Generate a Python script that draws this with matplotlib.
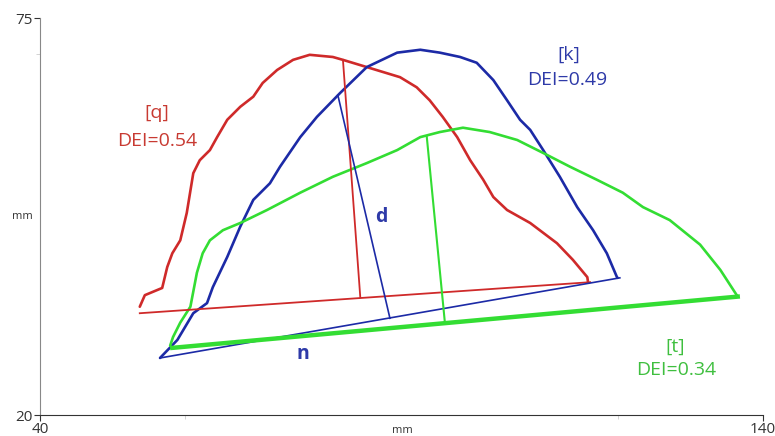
import matplotlib
matplotlib.use("Agg")
import matplotlib.pyplot as plt

plt.rcParams['font.family'] = ['Open Sans', 'DejaVu Sans']

# Tongue contours (mm) for the three consonants
q_x = [53.8, 54.5, 56.9, 57.6, 58.3, 59.4, 60.3, 61.2, 62.1, 63.5, 64.5, 65.9, 67.7, 69.5,
       70.8, 72.8, 75.0, 77.3, 80.5, 81.9, 85.2, 89.8, 92.1, 93.9, 95.7, 97.7, 99.5, 101.3,
       102.7, 104.6, 107.8, 111.5, 113.7, 115.7, 115.8]
q_y = [35.0, 36.6, 37.6, 40.5, 42.4, 44.2, 48.0, 53.5, 55.3, 56.7, 58.5, 60.9, 62.7, 64.1,
       66.0, 67.8, 69.2, 69.9, 69.6, 69.2, 68.2, 66.8, 65.4, 63.6, 61.3, 58.5, 55.3, 52.6,
       50.2, 48.4, 46.6, 43.8, 41.5, 39.1, 38.4]

k_x = [56.6, 59.0, 61.2, 63.1, 63.9, 65.9, 67.7, 69.5, 71.8, 73.2, 76.0, 78.3, 81.5, 85.2,
       89.4, 92.6, 95.3, 98.1, 100.4, 102.7, 104.6, 106.4, 107.8, 109.6, 111.9, 114.3, 116.5,
       118.4, 119.8, 119.9]
k_y = [27.9, 30.4, 34.1, 35.5, 37.7, 41.9, 46.1, 49.8, 52.1, 54.4, 58.5, 61.3, 64.6, 68.2,
       70.2, 70.6, 70.2, 69.6, 68.8, 66.4, 63.6, 60.9, 59.5, 56.7, 53.0, 48.8, 45.6,
       42.4, 39.1, 39.0]

t_x = [58.0, 58.4, 59.4, 60.8, 61.7, 62.5, 63.5, 65.3, 67.7, 71.4, 76.0, 80.5, 85.2, 89.4,
       92.6, 95.3, 98.5, 102.2, 106.0, 109.6, 113.3, 117.0, 120.6, 123.4, 127.1, 131.3,
       134.1, 136.5]
t_y = [29.6, 30.8, 32.8, 35.0, 39.7, 42.4, 44.2, 45.6, 46.6, 48.4, 50.8, 53.0, 54.9, 56.7,
       58.5, 59.2, 59.8, 59.2, 58.1, 56.3, 54.4, 52.6, 50.8, 48.8, 47.0, 43.6,
       40.1, 36.4]

# Baselines (n) and maximal depth lines (d): start / end points
q_base_x, q_base_y = [53.8, 116.1], [34.1, 38.4]
q_d_x, q_d_y = [81.9, 84.3], [69.2, 36.3]
k_base_x, k_base_y = [56.6, 120.2], [27.9, 39.0]
k_d_x, k_d_y = [81.2, 88.4], [64.3, 33.4]
t_base_x, t_base_y = [58.3, 136.5], [29.3, 36.4]
t_d_x, t_d_y = [93.5, 96.0], [58.5, 32.8]

segments = ["[q]", "[k]", "[t]"]
dei = [0.54, 0.49, 0.34]

RED, BLUE, GREEN = "#cf2a2a", "#1c2aa6", "#33dd33"
RED_T, BLUE_T, GREEN_T = "#c83a32", "#2e3aa8", "#3fbf3f"

fig = plt.figure(figsize=(7.75, 4.36), dpi=100)
ax = fig.add_axes([40 / 775, 21 / 436, 723 / 775, 397 / 436])

style = dict(solid_capstyle='round', solid_joinstyle='round')
ax.plot(q_x, q_y, color=RED, lw=1.9, **style)
ax.plot(k_x, k_y, color=BLUE, lw=1.9, **style)
ax.plot(t_x, t_y, color=GREEN, lw=1.9, **style)

ax.plot(q_base_x, q_base_y, color=RED, lw=1.3)
ax.plot(q_d_x, q_d_y, color=RED, lw=1.3)
ax.plot(k_base_x, k_base_y, color=BLUE, lw=1.2)
ax.plot(k_d_x, k_d_y, color=BLUE, lw=1.2)
ax.plot(t_base_x, t_base_y, color=GREEN, lw=3.2)
ax.plot(t_d_x, t_d_y, color=GREEN, lw=1.5)

# segment labels and their DEI values
label_pos = [((56.2, 61.8), (56.2, 58.0)),
             ((113.2, 69.9), (112.9, 66.4)),
             ((127.8, 29.4), (128.0, 26.2))]
for seg, val, col, (p1, p2) in zip(segments, dei, [RED_T, BLUE_T, GREEN_T], label_pos):
    ax.text(*p1, seg, color=col, fontsize=14, ha='center', va='center')
    ax.text(*p2, f"DEI={val:.2f}", color=col, fontsize=14, ha='center', va='center')

ax.text(87.2, 47.4, "d", color=BLUE_T, fontsize=14, fontweight='bold',
        ha='center', va='center')
ax.text(76.4, 28.5, "n", color=BLUE_T, fontsize=14, fontweight='bold',
        ha='center', va='center')

ax.set_xlim(40, 140)
ax.set_ylim(20, 75)
for s in ('top', 'right'):
    ax.spines[s].set_visible(False)
ax.spines['left'].set_color('#888888')
ax.spines['bottom'].set_color('#333333')
ax.set_xticks([40, 140])
ax.set_yticks([20, 75])
ax.set_xticks([60, 120], minor=True)
ax.set_yticks([70], minor=True)
ax.tick_params(axis='both', which='major', labelsize=11, colors='#333333', length=4,
               pad=1)
ax.tick_params(axis='both', which='minor', length=3, color='#cccccc')
ax.text(402 / 775, 1 - 430 / 436, "mm", transform=fig.transFigure, fontsize=8,
        color='#333333', ha='center', va='center')
ax.text(22 / 775, 1 - 216 / 436, "mm", transform=fig.transFigure, fontsize=8,
        color='#333333', ha='center', va='center')

fig.savefig("out.png", dpi=100)
